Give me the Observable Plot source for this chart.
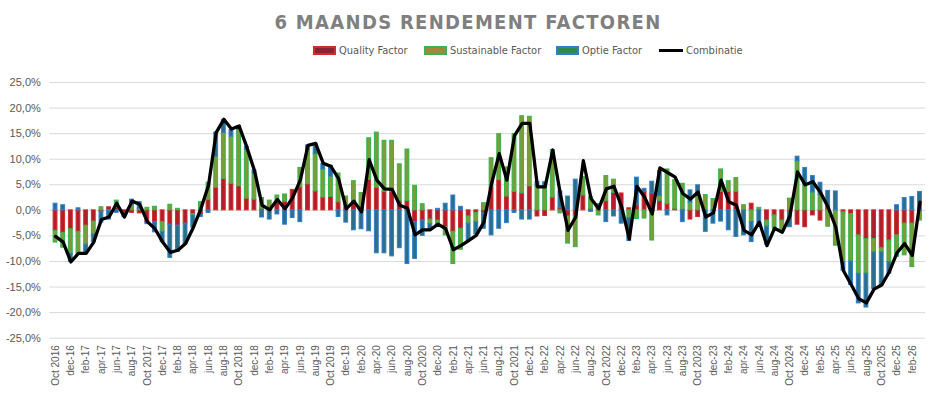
<!DOCTYPE html>
<html><head><meta charset="utf-8">
<script src="https://cdn.jsdelivr.net/npm/d3@7"></script>
<script src="https://cdn.jsdelivr.net/npm/@observablehq/plot@0.6"></script>
<style>
body{margin:0;background:#fff;width:936px;height:395px;overflow:hidden;font-family:"Liberation Sans",Arial,sans-serif}
#head{position:relative;height:65px;width:936px}
#title{position:absolute;left:0;width:936px;top:10px;text-align:center;font-weight:bold;font-size:20px;line-height:24px;font-family:"DejaVu Sans Condensed","DejaVu Sans",sans-serif;letter-spacing:1.3px;color:#7f7f7f}
.leg{position:absolute;top:43px;height:14px;display:flex;align-items:center;font-size:11px;font-family:"DejaVu Sans Condensed","DejaVu Sans",sans-serif;color:#595959;white-space:nowrap}
.sw{width:23px;height:9px;margin-right:3px;box-sizing:border-box;border:2px solid}
.ln{width:24px;height:3px;background:#000;margin-right:3px}
</style></head><body>
<div id="head">
  <div id="title">6 MAANDS RENDEMENT FACTOREN</div>
  <div class="leg" style="left:313px"><div class="sw" style="background:#8c2236;border-color:#d42a2a"></div>Quality Factor</div>
  <div class="leg" style="left:424px"><div class="sw" style="background:#a08a3a;border-color:#3cb44b"></div>Sustainable Factor</div>
  <div class="leg" style="left:556px"><div class="sw" style="background:#2e8a50;border-color:#2f7fd0"></div>Optie Factor</div>
  <div class="leg" style="left:659px"><div class="ln"></div>Combinatie</div>
</div>
<div id="chart"></div>
<script>
const seriesNames = ["Quality Factor", "Sustainable Factor", "Optie Factor"];

const tickLabels = [
  "Oct 2016","dec-16","feb-17","apr-17","jun-17","aug-17",
  "Oct 2017","dec-17","feb-18","apr-18","jun-18","aug-18",
  "Oct 2018","dec-18","feb-19","apr-19","jun-19","aug-19",
  "Oct 2019","dec-19","feb-20","apr-20","jun-20","aug-20",
  "Oct 2020","dec-20","feb-21","apr-21","jun-21","aug-21",
  "Oct 2021","dec-21","feb-22","apr-22","jun-22","aug-22",
  "Oct 2022","dec-22","feb-23","apr-23","jun-23","aug-23",
  "Oct 2023","dec-23","feb-24","apr-24","jun-24","aug-24",
  "Oct 2024","dec-24","feb-25","apr-25","jun-25","aug-25",
  "Oct 2025","dec-25","feb-26"
];

const quality = [
  -4.0,-4.4,-3.7,-4.2,-3.0,-2.2,-0.3,0.6,0.5,-0.6,
  -0.5,-0.6,-2.3,-2.3,-2.3,-2.8,-3.0,-2.6,-0.7,-0.8,
  2.0,4.4,6.1,5.2,4.7,2.3,2.1,0.3,0.5,1.5,
  1.7,4.0,4.5,5.1,3.7,2.5,2.6,1.6,0.5,1.8,
  0.4,6.0,4.4,3.6,3.6,1.8,1.8,-2.3,-2.0,-1.8,
  -2.0,-3.3,-4.2,-3.6,-1.2,-0.5,-0.6,4.3,5.9,2.7,
  3.6,3.3,4.7,-1.2,-1.1,2.5,0.4,-1.2,-1.0,2.9,
  0.3,0.6,1.8,3.4,3.3,0.4,1.0,3.6,3.3,1.8,
  1.2,0.3,0.2,-1.8,-1.3,0.0,0.0,3.6,3.6,3.6,
  0.0,1.3,0.0,-2.0,-1.0,-2.0,-0.4,-2.8,-3.3,-1.0,
  -2.0,0.8,0.0,-0.4,-0.7,-4.9,-5.6,-5.6,-7.4,-5.9,
  -4.9,-2.6,-2.6,0.0
];

const sustainable = [
  -2.3,-2.9,-4.8,-4.5,-3.7,-2.5,0.6,-0.1,1.4,-0.3,
  1.0,0.3,0.5,0.7,-1.9,1.1,0.3,0.0,-0.3,1.6,
  3.4,6.1,9.0,9.2,11.0,9.5,5.1,2.1,1.4,1.4,
  1.4,0.0,3.8,6.8,7.3,5.5,4.0,5.6,2.2,3.9,
  3.0,8.1,10.8,10.0,10.0,7.2,10.1,4.8,1.2,-0.9,
  -0.9,-1.6,-6.3,-4.1,-1.4,-1.8,1.4,5.9,9.0,5.7,
  11.3,15.1,13.6,4.6,4.4,9.3,-0.6,-5.3,-6.2,3.6,
  2.3,-1.0,4.9,2.6,0.0,-1.5,-1.7,-1.6,-5.9,1.0,
  6.8,5.6,5.0,1.5,2.9,3.0,2.2,4.4,2.1,2.7,
  1.0,-2.3,0.5,-1.2,-2.6,-2.2,2.3,9.6,5.2,3.5,
  3.0,-3.2,-6.9,-9.7,-9.3,-7.5,-6.8,-2.6,-0.8,-4.2,
  -4.2,-6.2,-8.5,-2.0
];

const optie = [
  1.3,1.0,-1.6,0.4,-1.8,-1.5,-2.1,-1.7,-0.5,-0.4,
  1.1,1.3,-0.4,-2.0,-2.0,-6.5,-5.1,-3.9,-2.4,-0.5,
  -0.5,4.7,2.6,1.3,0.8,0.6,0.6,-1.4,-1.8,-0.8,
  -2.8,-1.5,-2.3,0.8,2.0,1.1,2.1,-1.3,-2.4,-3.9,
  -3.7,-4.1,-8.4,-8.4,-9.0,-7.4,-10.5,-7.2,-3.0,-1.1,
  0.3,1.3,2.9,0.7,-3.3,-2.4,-3.0,-4.9,-3.6,-2.5,
  -0.5,-1.8,-1.8,1.0,1.1,0.0,3.3,2.7,6.0,0.0,
  -0.3,0.6,-2.3,-1.2,-2.6,-4.5,5.4,0.6,2.3,4.9,
  -1.0,0.0,-2.3,2.4,2.0,-4.2,-2.6,-2.2,-3.9,-5.2,
  -4.9,-3.9,-2.8,-3.5,0.0,0.0,-2.9,0.9,3.1,3.2,
  2.4,3.0,3.7,-1.7,-4.6,-5.8,-6.6,-7.2,-6.5,-2.3,
  1.0,2.4,2.6,3.6
];

const combinatie = [
  -5.1,-6.2,-10.1,-8.4,-8.4,-6.2,-1.8,-1.3,1.4,-1.3,
  1.8,1.2,-2.2,-3.6,-6.2,-8.2,-7.8,-6.5,-3.4,0.3,
  4.9,15.2,17.8,15.9,16.5,12.4,7.8,1.0,0.1,2.1,
  0.3,2.5,5.9,12.7,13.1,9.2,8.6,6.2,0.3,1.8,
  -0.3,9.9,5.9,4.2,4.1,1.0,0.4,-4.8,-3.8,-3.8,
  -2.7,-3.6,-7.7,-6.9,-5.9,-4.9,-2.3,5.2,11.1,5.9,
  14.6,17.0,17.0,4.6,4.6,11.8,3.1,-3.9,-1.3,9.7,
  2.3,0.3,4.2,4.7,0.7,-5.6,4.7,2.6,-0.7,8.3,
  7.4,6.5,3.3,2.2,3.6,-1.3,-0.5,5.9,1.7,1.0,
  -3.9,-4.8,-2.3,-6.9,-3.5,-4.3,-1.1,7.5,5.0,5.6,
  3.5,0.6,-3.3,-11.8,-14.5,-17.3,-18.1,-15.4,-14.6,-12.0,
  -8.3,-6.5,-8.8,1.6
];

const yTicks = [-25,-20,-15,-10,-5,0,5,10,15,20,25];

const fills = {"Quality Factor":"#b01e2c","Sustainable Factor":"#7f9a38","Optie Factor":"#2a6f86"};
const strokes = {"Quality Factor":"#d22a2a","Sustainable Factor":"#30b54a","Optie Factor":"#2f7fd0"};

const n = quality.length;
const idx = d3.range(n);
const values = [quality, sustainable, optie];
const rows = [];
idx.forEach(i => {
  seriesNames.forEach((s, k) => rows.push({i, series: s, v: values[k][i]}));
});
const lineRows = idx.map(i => ({i, v: combinatie[i]}));

const chart = Plot.plot({
  width: 936,
  height: 330,
  marginLeft: 49.3,
  marginRight: 10.8,
  marginTop: 17,
  marginBottom: 57.3,
  style: {fontFamily: "'Liberation Sans', Arial, sans-serif", background: "#fff", overflow: "visible"},
  x: {type: "band", domain: idx, padding: 0.5, align: 0.5, label: null},
  y: {domain: [-25, 25], label: null},
  color: {type: "identity"},
  marks: [
    Plot.gridY(yTicks, {stroke: "#d9d9d9", strokeOpacity: 1, strokeWidth: 1}),
    Plot.barY(rows, {x: "i", y: "v", fill: d => fills[d.series], stroke: d => strokes[d.series], strokeWidth: 1}),
    Plot.lineY(lineRows, {x: "i", y: "v", stroke: "#000", strokeWidth: 3.3, strokeLinejoin: "round", strokeLinecap: "round"}),
    Plot.axisY(yTicks, {tickSize: 0, tickPadding: 9, fontSize: 11, fill: "#595959", label: null,
      tickFormat: d => d.toFixed(1).replace(".", ",") + "%"}),
    Plot.axisX(idx.filter(i => i % 2 === 0), {tickSize: 0, tickRotate: -90, tickPadding: 7, fontSize: 10, fill: "#595959", label: null,
      tickFormat: i => tickLabels[i / 2]})
  ]
});
document.getElementById("chart").appendChild(chart);
</script>
</body></html>
